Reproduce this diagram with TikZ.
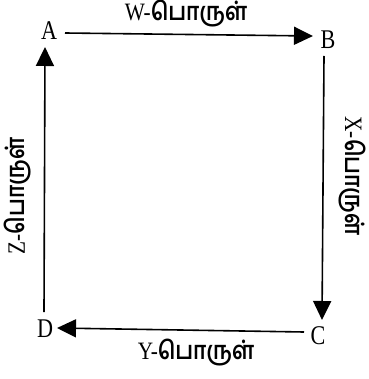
\documentclass[tikz,border=0pt]{standalone}
\usepackage{fontspec}
\setmainfont{Liberation Serif}
\newfontfamily\tamilfont[Script=Tamil]{Hind Madurai}
\usetikzlibrary{arrows.meta}
\newcommand{\tamlbl}[1]{\scalebox{0.85}[1.0]{#1-{\tamilfont\bfseries பொருள்}}}
\newcommand{\ptlbl}[1]{\scalebox{0.82}[1.0]{#1}}
\begin{document}
\begin{tikzpicture}[x=1pt,y=-1pt,
  pt/.style={font=\fontsize{27}{29}\selectfont, inner sep=0pt},
  lbl/.style={font=\fontsize{25}{27}\selectfont, inner sep=0pt},
  conn/.style={line width=1.6pt, -{Triangle[length=19pt,width=18pt]}}]
\useasboundingbox (0,0) rectangle (368,379);
\node[pt] (A) at (49,31) {\ptlbl{A}};
\node[pt] (B) at (328,40) {\ptlbl{B}};
\node[pt] (C) at (318,336) {\ptlbl{C}};
\node[pt] (D) at (45,329) {\ptlbl{D}};
\coordinate (a1) at (65,33);
\coordinate (b0) at (313,36);
\coordinate (b1) at (324,56);
\coordinate (c0) at (322,320);
\coordinate (c1) at (304,332);
\coordinate (d0) at (57,328);
\coordinate (d1) at (44,312);
\coordinate (a0) at (45,47);
\draw[conn] (a1) -- (b0);
\draw[conn] (b1) -- (c0);
\draw[conn] (c1) -- (d0);
\draw[conn] (d1) -- (a0);
\node[lbl] (w) at (186,14) {\tamlbl{W}};
\node[lbl, rotate=-90] (x) at (352,176) {\tamlbl{X}};
\node[lbl] (y) at (196,353) {\tamlbl{Y}};
\node[lbl, rotate=90] (z) at (18,196) {\tamlbl{Z}};
\end{tikzpicture}
\end{document}
